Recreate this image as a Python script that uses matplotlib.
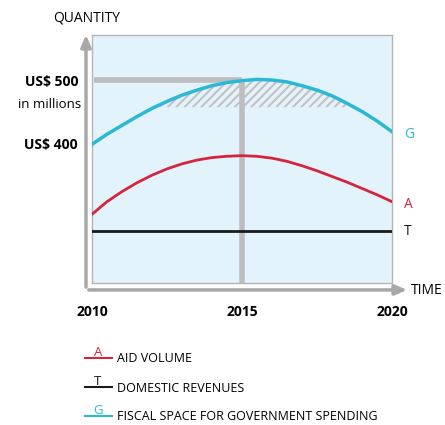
import numpy as np
import matplotlib
matplotlib.use('Agg')
import matplotlib.pyplot as plt
from matplotlib.lines import Line2D

# values (US$ millions), every half year
years = np.arange(2010, 2020.01, 0.5)
fiscal_space = np.array([398, 414, 428, 442, 455, 466, 476, 484, 491, 496, 499,
                         501, 500, 497, 491, 484, 475, 463, 450, 435, 418])   # G
aid_volume = np.array([287, 307, 323, 337, 349, 359, 367, 373, 377, 379, 380,
                       379, 376, 371, 364, 356, 347, 338, 328, 318, 307])     # A
domestic_rev = np.full(len(years), 260)                                         # T
hatch_floor = 457
hatch_to = 2018.5
peak_year = 2015
peak_value = 500

xticks = [2010, 2015, 2020]
ytick_labels = {500: "US$ 500", 400: "US$ 400"}

W, H = 445, 425
cyan = "#2bb8d4"
red = "#d5253e"
grey = "#bdbdbd"

plt.rcParams['font.family'] = ['Open Sans', 'DejaVu Sans']
plt.rcParams['hatch.linewidth'] = 1.5

fig = plt.figure(figsize=(W / 100, H / 100), dpi=100)
ax = fig.add_axes([92 / W, (H - 283) / H, 300 / W, 248 / H])
ax.set_facecolor("#e3f3fb")
ax.set_xlim(2010, 2020)
ax.set_ylim(178, 571.4)
for s in ax.spines.values():
    s.set_color("#b5b5b5")
    s.set_linewidth(1)

# hatched fiscal space
ax.fill_between(years, hatch_floor, fiscal_space,
                where=(fiscal_space >= hatch_floor) & (years <= hatch_to), interpolate=True,
                facecolor="none", edgecolor="#c4c0c4", hatch="////", linewidth=0, zorder=2)

# guide lines to the peak
ax.plot([2010.05, peak_year], [peak_value, peak_value], color=grey, lw=4, zorder=1, solid_capstyle="butt")
ax.plot([peak_year, peak_year], [178, peak_value], color=grey, lw=4, zorder=1, solid_capstyle="butt")

ax.plot(years, domestic_rev, color="#1a1a1a", lw=2, zorder=3)
ax.plot(years, aid_volume, color=red, lw=2, zorder=3)
ax.plot(years, fiscal_space, color=cyan, lw=2.5, zorder=3)

ax.text(2020.4, fiscal_space[-1] - 5, "G", color=cyan, fontsize=10, va="center")
ax.text(2020.4, aid_volume[-1] - 5, "A", color=red, fontsize=10, va="center")
ax.text(2020.4, domestic_rev[-1], "T", color="#1a1a1a", fontsize=10, va="center")

ax.set_xticks(xticks)
ax.set_xticklabels([str(x) for x in xticks], fontweight="bold", fontsize=10)
ax.set_yticks(list(ytick_labels.keys()))
ax.set_yticklabels(list(ytick_labels.values()), fontweight="bold", fontsize=10)
ax.tick_params(length=0, pad=10)
ax.tick_params(axis="x", pad=16)
ax.text(-0.035, 1 - (104 - 35) / 248, "in millions", transform=ax.transAxes, ha="right",
        va="center", fontsize=9.5)

# axis arrows
arrow = dict(arrowstyle="-|>,head_width=0.3,head_length=0.7", color="#a8a8a8", lw=2.5)
ax.annotate("", xy=(-0.02, 1.012), xytext=(-0.02, -0.028), xycoords="axes fraction",
            arrowprops=arrow, annotation_clip=False)
ax.annotate("", xy=(1.06, -0.028), xytext=(-0.02, -0.028), xycoords="axes fraction",
            arrowprops=arrow, annotation_clip=False)
fig.text(411 / W, 1 - 290 / H, "TIME", fontsize=10, va="center", ha="left")
fig.text(87 / W, 1 - 18 / H, "QUANTITY", fontsize=10, va="center", ha="center")

# legend at the bottom
legend = [("A", "AID VOLUME", red, 358), ("T", "DOMESTIC REVENUES", "#1a1a1a", 387),
          ("G", "FISCAL SPACE FOR GOVERNMENT SPENDING", cyan, 416)]
for letter, label, col, ypx in legend:
    fig.add_artist(Line2D([85 / W, 112 / W], [1 - ypx / H, 1 - ypx / H], color=col, lw=1.5,
                          transform=fig.transFigure))
    fig.text(98 / W, 1 - (ypx - 2) / H, letter, color=col, fontsize=9.5, ha="center", va="baseline")
    fig.text(117 / W, 1 - (ypx + 1) / H, label, fontsize=9, ha="left", va="center")

fig.savefig("out.png", dpi=100)
